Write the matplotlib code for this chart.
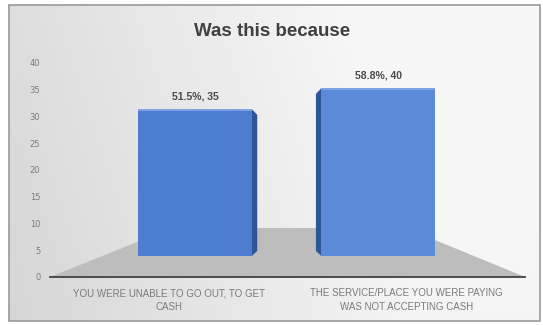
import numpy as np
import matplotlib.pyplot as plt
from matplotlib.patches import Polygon, Rectangle

title = "Was this because"
categories = ["YOU WERE UNABLE TO GO OUT, TO GET\nCASH",
              "THE SERVICE/PLACE YOU WERE PAYING\nWAS NOT ACCEPTING CASH"]
counts = [35, 40]
shares = [51.5, 58.8]
y_ticks = list(range(0, 45, 5))

W, H = 543, 325


def px_rect(x0, y0, x1, y1):
    # pixel box (top-left origin) -> figure fraction rect
    return [x0 / W, (H - y1) / H, (x1 - x0) / W, (y1 - y0) / H]


fig = plt.figure(figsize=(W / 100, H / 100), dpi=100)
fig.patch.set_facecolor("white")

# background panel with a soft grey gradient and thin border
bg = fig.add_axes([0, 0, 1, 1])
bg.set_xlim(0, W)
bg.set_ylim(H, 0)
bg.axis("off")
gx = np.linspace(0, 1, 200)
gy = np.linspace(0, 1, 120)
GX, GY = np.meshgrid(gx, gy)
shade = 0.84 + 0.12 * np.clip(GX * 1.3, 0, 1) + 0.03 * (1 - GY)
shade = np.clip(shade, 0, 0.97)
bg.imshow(np.dstack([shade] * 3), extent=(9, 540, 321, 5), aspect="auto",
          interpolation="bilinear", zorder=0)
bg.add_patch(Rectangle((9, 5), 531, 316, fill=False, ec="#9a9a9a", lw=1.2, zorder=1))
bg.text(272, 32, title, ha="center", va="center", fontsize=13.5, fontweight="bold",
        color="#404040", family="Liberation Sans")

# front axis: value scale on the back wall, category labels under the floor
front = fig.add_axes(px_rect(50, 63, 525, 277))
front.set_facecolor("none")
front.set_xlim(-0.5, 1.5)
front.set_ylim(0, 40)
front.add_patch(Polygon([(0, 0), (1, 0), (0.749, 0.229), (0.257, 0.229)],
                        closed=True, transform=front.transAxes, fc="#bdbdbd",
                        ec="none", zorder=0))
for side in ["top", "right", "left"]:
    front.spines[side].set_visible(False)
front.spines["bottom"].set_color("#404040")
front.spines["bottom"].set_linewidth(1.3)
front.set_yticks(y_ticks)
front.set_xticks(range(len(categories)))
front.set_xticklabels(categories, fontsize=7, color="#7a7a7a", family="Liberation Sans",
                      linespacing=1.45)
front.tick_params(axis="y", length=0, labelsize=6, labelcolor="#7a7a7a", pad=7)
front.tick_params(axis="x", length=0, pad=8)

# bar axis
ax = fig.add_axes(px_rect(50, 67, 525, 256))
ax.set_facecolor("none")
ax.axis("off")
ax.set_xlim(-0.79, 1.80)
ax.set_ylim(0, 45)

x = np.arange(len(counts))
width = 0.62
fronts = ["#4d7dce", "#5b8ad8"]
bars = ax.bar(x, counts, width=width, color=fronts, zorder=3)

# perspective side faces: right side on the left bar, left side on the right bar
dx = 0.03
for i, (b, v) in enumerate(zip(bars, counts)):
    if i == 0:
        xe = b.get_x() + b.get_width()
        xs = xe + dx
    else:
        xe = b.get_x()
        xs = xe - dx
    ax.add_patch(Polygon([(xe, 0), (xe, v), (xs, v - 1.4), (xs, 1.2)],
                         closed=True, fc="#2f5599", ec="none", zorder=2))
    # thin lighter top edge
    ax.add_patch(Rectangle((b.get_x(), v - 0.5), b.get_width(), 0.5,
                           fc="#7ea3e3", ec="none", zorder=4))
    ax.text(b.get_x() + b.get_width() / 2, v + 2.9, f"{shares[i]}%, {v}",
            ha="center", va="center", fontsize=7.5, fontweight="bold",
            color="#4a4a4a", family="Liberation Sans")

fig.savefig("out.png", dpi=100)
